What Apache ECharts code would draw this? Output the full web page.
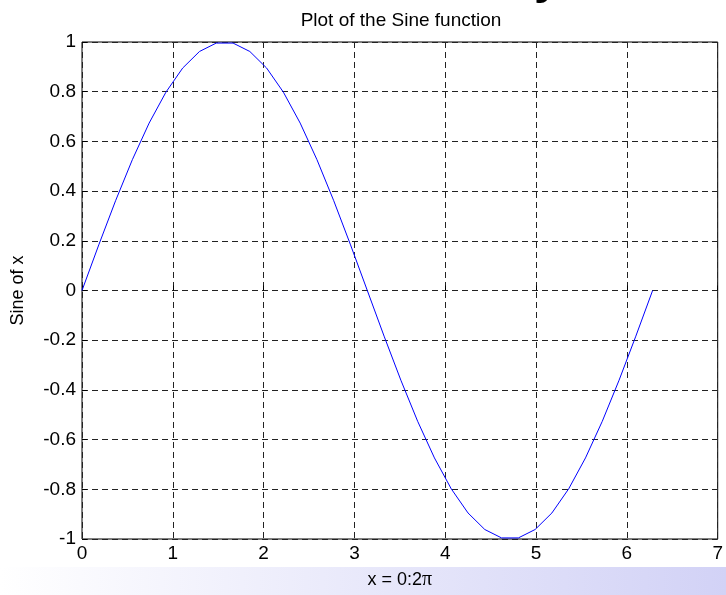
<!DOCTYPE html>
<html>
<head>
<meta charset="utf-8">
<script src="https://cdn.jsdelivr.net/npm/echarts@6/dist/echarts.min.js"></script>
<style>
  html, body { margin: 0; padding: 0; background: #fff; }
  #chart { width: 726px; height: 595px; }
</style>
</head>
<body>
<div id="chart"></div>
<script>
// x = linspace(0, 2*pi, 35), values
const xs = [0, 0.1848, 0.3696, 0.5544, 0.7392, 0.924, 1.1088, 1.2936, 1.4784, 1.6632,
  1.848, 2.0328, 2.2176, 2.4024, 2.5872, 2.772, 2.9568, 3.1416, 3.3264, 3.5112,
  3.696, 3.8808, 4.0656, 4.2504, 4.4352, 4.62, 4.8048, 4.9896, 5.1744, 5.3592,
  5.544, 5.7288, 5.9136, 6.0984, 6.2832];
const ys = [0, 0.1837, 0.3612, 0.5264, 0.6737, 0.798, 0.8952, 0.9618, 0.9957, 0.9957,
  0.9618, 0.8952, 0.798, 0.6737, 0.5264, 0.3612, 0.1837, 0, -0.1837, -0.3612,
  -0.5264, -0.6737, -0.798, -0.8952, -0.9618, -0.9957, -0.9957, -0.9618, -0.8952, -0.798,
  -0.6737, -0.5264, -0.3612, -0.1837, 0];

const xRange = [0, 7];
const yRange = [-1, 1];

const chart = echarts.init(document.getElementById('chart'));

const font = 'Liberation Sans';
const gridDash = { color: '#222', width: 1, type: [6, 4] };

chart.setOption({
  animation: false,
  backgroundColor: '#fff',
  title: {
    text: 'Plot of the Sine function',
    left: 401,
    textAlign: 'center',
    top: 11,
    padding: 0,
    textStyle: { fontFamily: font, fontSize: 19, fontWeight: 'normal', color: '#000' }
  },
  graphic: [
    {
      // light blue slide band under the axis name
      type: 'rect',
      z: -10,
      shape: { x: 0, y: 567, width: 726, height: 28 },
      style: {
        fill: new echarts.graphic.LinearGradient(0, 0, 1, 0, [
          { offset: 0, color: '#ffffff' },
          { offset: 1, color: '#d2d2f6' }
        ])
      }
    },
    {
      // tail of the cut-off slide heading
      type: 'text',
      x: 534,
      y: -20,
      style: {
        text: 'y',
        font: 'bold 48px "Liberation Sans"',
        fill: '#000',
        textVerticalAlign: 'middle'
      }
    }
  ],
  grid: {
    left: 82,
    right: 5,
    top: 42,
    bottom: 51,
    show: true,
    borderColor: '#000',
    borderWidth: 1,
    backgroundColor: 'transparent'
  },
  xAxis: {
    type: 'value',
    min: xRange[0],
    max: xRange[1],
    interval: 1,
    name: 'x = 0:2{p|π}',
    nameLocation: 'middle',
    nameGap: 31,
    nameTextStyle: {
      fontFamily: font, fontSize: 18, color: '#000',
      rich: { p: { fontFamily: 'Liberation Serif', fontSize: 20, color: '#000' } }
    },
    axisLine: { show: false },
    axisTick: { show: true, inside: true, length: 5, lineStyle: { color: '#000' } },
    axisLabel: { margin: 5, fontFamily: font, fontSize: 19, color: '#000' },
    splitLine: { show: true, lineStyle: gridDash }
  },
  yAxis: {
    type: 'value',
    min: yRange[0],
    max: yRange[1],
    interval: 0.2,
    name: 'Sine of x',
    nameLocation: 'middle',
    nameRotate: 90,
    nameGap: 55,
    nameTextStyle: { fontFamily: font, fontSize: 18, color: '#000' },
    axisLine: { show: false },
    axisTick: { show: true, inside: true, length: 5, lineStyle: { color: '#000' } },
    axisLabel: { margin: 6, fontFamily: font, fontSize: 19, color: '#000' },
    splitLine: { show: true, lineStyle: gridDash }
  },
  series: [
    {
      type: 'line',
      data: xs.map((x, i) => [x, ys[i]]),
      showSymbol: false,
      symbol: 'none',
      smooth: false,
      lineStyle: { color: '#0000ff', width: 1 }
    }
  ]
});
</script>
</body>
</html>
